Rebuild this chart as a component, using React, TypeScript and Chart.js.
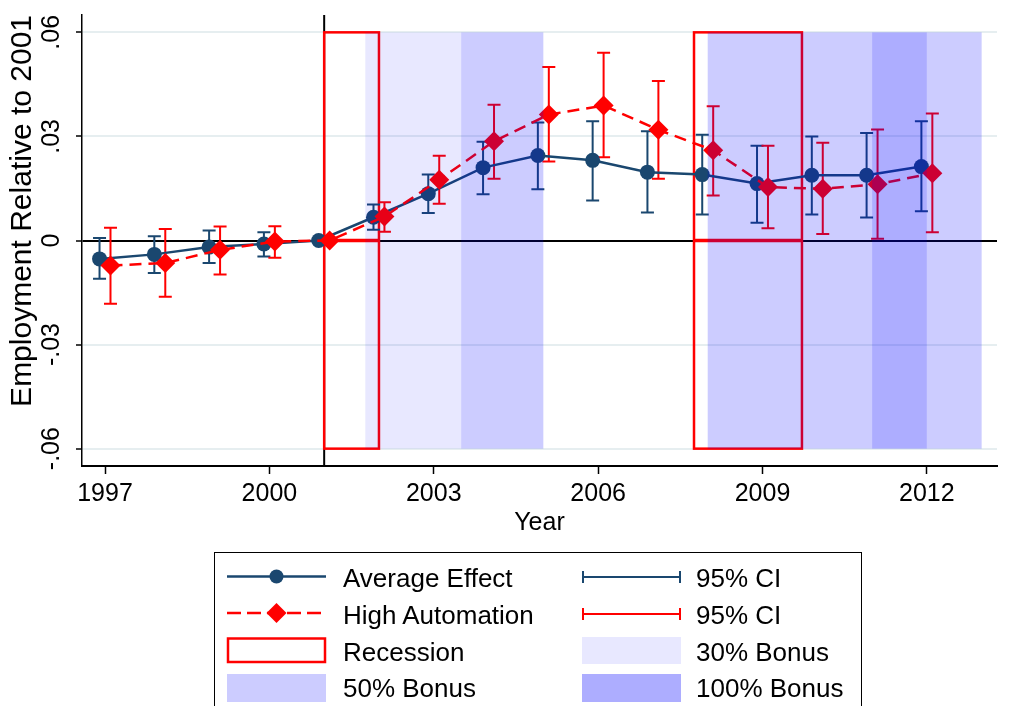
import React, { useEffect, useRef } from 'react';
import { Chart, registerables } from 'chart.js';

Chart.register(...registerables);

const NAVY = '#1a476f';
const RED = '#ff0000';
const FONT = "'Liberation Sans', Arial, Helvetica, sans-serif";

// ---- data ----
const years = [1997, 1998, 1999, 2000, 2001, 2002, 2003, 2004, 2005, 2006, 2007, 2008, 2009, 2010, 2011, 2012];
const avgEffect = [-0.0053, -0.0040, -0.0019, -0.0010, 0, 0.0067, 0.0135, 0.0210, 0.0245, 0.0231, 0.0197, 0.0190, 0.0164, 0.0188, 0.0188, 0.0213];
const avgLow = [-0.0110, -0.0094, -0.0065, -0.0046, 0, 0.0031, 0.0079, 0.0133, 0.0148, 0.0115, 0.0081, 0.0075, 0.0051, 0.0075, 0.0066, 0.0084];
const avgHigh = [0.0007, 0.0012, 0.0029, 0.0024, 0, 0.0104, 0.0190, 0.0285, 0.0340, 0.0344, 0.0315, 0.0305, 0.0273, 0.0300, 0.0310, 0.0344];
const highAuto = [-0.0072, -0.0065, -0.0027, -0.0003, 0, 0.0069, 0.0175, 0.0286, 0.0363, 0.0389, 0.0319, 0.0260, 0.0154, 0.0149, 0.0162, 0.0194];
const highAutoLow = [-0.0182, -0.0162, -0.0098, -0.0050, 0, 0.0025, 0.0106, 0.0178, 0.0228, 0.0240, 0.0178, 0.0130, 0.0035, 0.0019, 0.0005, 0.0024];
const highAutoHigh = [0.0037, 0.0033, 0.0040, 0.0041, 0, 0.0110, 0.0244, 0.0391, 0.0500, 0.0541, 0.0460, 0.0387, 0.0273, 0.0282, 0.0320, 0.0366];

const xTicks = [1997, 2000, 2003, 2006, 2009, 2012];
const yTicks = [-0.06, -0.03, 0, 0.03, 0.06];
const yTickLabels = ['-.06', '-.03', '0', '.03', '.06'];

const recessions = [[2001, 2002], [2007.75, 2009.72]];
const bonus30 = [[2001.75, 2003.5]];
const bonus50 = [[2003.5, 2005], [2008, 2011], [2012, 2013]];
const bonus100 = [[2011, 2012]];
const shadeRange = [-0.06, 0.06];
const referenceYear = 2001;

const AVG_SHIFT = -0.1;
const HIGH_SHIFT = 0.1;

function drawCI(chart: any, xs: number[], lo: number[], hi: number[], color: string) {
  const { ctx, scales } = chart;
  const x = scales.x, y = scales.y;
  ctx.strokeStyle = color;
  ctx.lineWidth = 2;
  for (let i = 0; i < xs.length; i++) {
    if (lo[i] === hi[i]) continue;
    const px = x.getPixelForValue(xs[i]);
    const pl = y.getPixelForValue(lo[i]);
    const ph = y.getPixelForValue(hi[i]);
    ctx.beginPath();
    ctx.moveTo(px, pl); ctx.lineTo(px, ph);
    ctx.moveTo(px - 6.5, pl); ctx.lineTo(px + 6.5, pl);
    ctx.moveTo(px - 6.5, ph); ctx.lineTo(px + 6.5, ph);
    ctx.stroke();
  }
}

const overlayPlugin = {
  id: 'overlay',
  beforeDatasetsDraw(chart: any) {
    const { ctx, chartArea, scales } = chart;
    const x = scales.x, y = scales.y;
    ctx.save();
    // vertical reference line
    const vx = x.getPixelForValue(referenceYear);
    ctx.strokeStyle = '#000';
    ctx.lineWidth = 2;
    ctx.beginPath();
    ctx.moveTo(vx, chartArea.top);
    ctx.lineTo(vx, chartArea.bottom);
    ctx.stroke();
    // recession boxes
    const yt = y.getPixelForValue(shadeRange[1]);
    const yb = y.getPixelForValue(shadeRange[0]);
    const y0 = y.getPixelForValue(0);
    ctx.strokeStyle = RED;
    for (const [a, b] of recessions) {
      const x0 = x.getPixelForValue(a);
      const x1 = x.getPixelForValue(b);
      ctx.lineWidth = 2.5;
      ctx.strokeRect(x0, yt, x1 - x0, yb - yt);
      ctx.lineWidth = 3.5;
      ctx.beginPath();
      ctx.moveTo(x0, y0);
      ctx.lineTo(x1, y0);
      ctx.stroke();
    }
    // confidence intervals
    drawCI(chart, years.map((v) => v + AVG_SHIFT), avgLow, avgHigh, NAVY);
    drawCI(chart, years.map((v) => v + HIGH_SHIFT), highAutoLow, highAutoHigh, RED);
    ctx.restore();
  },
  afterDatasetsDraw(chart: any) {
    const { ctx, scales } = chart;
    const x = scales.x, y = scales.y;
    const yt = y.getPixelForValue(shadeRange[1]);
    const yb = y.getPixelForValue(shadeRange[0]);
    ctx.save();
    const fill = (list: number[][], color: string) => {
      ctx.fillStyle = color;
      for (const [a, b] of list) {
        const x0 = x.getPixelForValue(a);
        const x1 = x.getPixelForValue(b);
        ctx.fillRect(x0, yt, x1 - x0, yb - yt);
      }
    };
    fill(bonus30, 'rgba(0,0,255,0.09)');
    fill(bonus50, 'rgba(0,0,255,0.2)');
    fill(bonus100, 'rgba(0,0,255,0.32)');
    ctx.restore();
  },
};

function ChartCanvas() {
  const ref = useRef<HTMLCanvasElement | null>(null);
  useEffect(() => {
    if (!ref.current) return;
    const chart = new Chart(ref.current, {
      type: 'line',
      data: {
        datasets: [
          {
            label: 'Average Effect',
            data: years.map((yr, i) => ({ x: yr + AVG_SHIFT, y: avgEffect[i] })),
            borderColor: NAVY,
            backgroundColor: NAVY,
            borderWidth: 2.5,
            pointStyle: 'circle',
            pointRadius: 7.5,
            pointBorderWidth: 0,
            pointBackgroundColor: NAVY,
            tension: 0,
            order: 2,
          },
          {
            label: 'High Automation',
            data: years.map((yr, i) => ({ x: yr + HIGH_SHIFT, y: highAuto[i] })),
            borderColor: RED,
            backgroundColor: RED,
            borderWidth: 2.5,
            borderDash: [12, 7],
            pointStyle: 'rectRot',
            pointRadius: 10,
            pointBorderWidth: 0,
            pointBackgroundColor: RED,
            tension: 0,
            order: 1,
          },
        ],
      },
      options: {
        responsive: false,
        animation: false,
        devicePixelRatio: 1,
        layout: { padding: { left: 0, top: 15, right: 13, bottom: 168 } },
        plugins: { legend: { display: false }, tooltip: { enabled: false } },
        scales: {
          x: {
            type: 'linear',
            min: 1996.58,
            max: 2013.28,
            afterBuildTicks: (s: any) => { s.ticks = xTicks.map((v) => ({ value: v })); },
            afterFit: (s: any) => { s.height = 72; s.paddingLeft = 0; s.paddingRight = 0; },
            border: { color: '#000', width: 2 },
            grid: { drawOnChartArea: false, tickColor: '#000', tickLength: 8, tickWidth: 1.5 },
            ticks: {
              color: '#000',
              font: { family: FONT, size: 25 },
              padding: 5,
              maxRotation: 0,
              callback: (v: any) => String(v),
            },
            title: {
              display: true,
              text: 'Year',
              color: '#000',
              font: { family: FONT, size: 25 },
              padding: { top: 0, bottom: 0 },
            },
          },
          y: {
            type: 'linear',
            min: -0.065,
            max: 0.065,
            afterBuildTicks: (s: any) => { s.ticks = yTicks.map((v) => ({ value: v })); },
            afterFit: (s: any) => { s.width = 82; s.paddingTop = 0; s.paddingBottom = 0; },
            border: { color: '#000', width: 1.5 },
            grid: {
              color: (c: any) => (c.tick && c.tick.value === 0 ? '#000' : '#e6eef0'),
              lineWidth: 2,
              tickColor: '#000',
              tickLength: 6,
              tickWidth: 1.5,
            },
            ticks: {
              color: '#000',
              font: { family: FONT, size: 25 },
              minRotation: 90,
              maxRotation: 90,
              crossAlign: 'center',
              padding: 2,
              callback: (_v: any, i: number) => yTickLabels[i],
            },
            title: {
              display: true,
              text: 'Employment Relative to 2001',
              align: 'end',
              color: '#000',
              font: { family: FONT, size: 30 },
              padding: { top: 5, bottom: 0 },
            },
          },
        },
      },
      plugins: [overlayPlugin],
    } as any);
    return () => chart.destroy();
  }, []);
  return <canvas ref={ref} width={1010} height={706} style={{ position: 'absolute', left: 0, top: 0 }} />;
}

const legendText: React.CSSProperties = {
  position: 'absolute',
  fontFamily: FONT,
  fontSize: 26,
  color: '#000',
  whiteSpace: 'nowrap',
  height: 36,
  lineHeight: '36px',
};

const legendRows = [578, 615, 652, 688];

export default function App() {
  const rowTop = (i: number) => legendRows[i] - 18;
  return (
    <div style={{ position: 'absolute', left: 0, top: 0, width: 1010, height: 706, overflow: 'hidden', background: '#fff' }}>
      <ChartCanvas />
      <div style={{ position: 'absolute', left: 214, top: 552, width: 648, height: 180, border: '1.5px solid #000', boxSizing: 'border-box' }} />
      <svg width={1010} height={706} style={{ position: 'absolute', left: 0, top: 0, pointerEvents: 'none' }}>
        {/* Average Effect */}
        <line x1={227} y1={576.5} x2={326} y2={576.5} stroke={NAVY} strokeWidth={2.5} />
        <circle cx={276.5} cy={576.5} r={7} fill={NAVY} />
        {/* High Automation */}
        <line x1={227} y1={613} x2={326} y2={613} stroke={RED} strokeWidth={2.5} strokeDasharray="14 6" />
        <polygon points="276.5,603 286.5,613 276.5,623 266.5,613" fill={RED} />
        {/* Recession */}
        <rect x={228} y={638.5} width={97} height={23.5} fill="none" stroke={RED} strokeWidth={2.5} />
        {/* 50% */}
        <rect x={227} y={674} width={99} height={28} fill="#ccccff" />
        {/* CI navy */}
        <line x1={582} y1={577} x2={681} y2={577} stroke={NAVY} strokeWidth={2} />
        <line x1={583} y1={571} x2={583} y2={583} stroke={NAVY} strokeWidth={2} />
        <line x1={680} y1={571} x2={680} y2={583} stroke={NAVY} strokeWidth={2} />
        {/* CI red */}
        <line x1={582} y1={614} x2={681} y2={614} stroke={RED} strokeWidth={2} />
        <line x1={583} y1={608} x2={583} y2={620} stroke={RED} strokeWidth={2} />
        <line x1={680} y1={608} x2={680} y2={620} stroke={RED} strokeWidth={2} />
        {/* 30% */}
        <rect x={582} y={637} width={99} height={27} fill="#e8e8ff" />
        {/* 100% */}
        <rect x={582} y={674} width={99} height={28} fill="#adadff" />
      </svg>
      <div style={{ ...legendText, left: 343, top: rowTop(0) }}>Average Effect</div>
      <div style={{ ...legendText, left: 343, top: rowTop(1) }}>High Automation</div>
      <div style={{ ...legendText, left: 343, top: rowTop(2) }}>Recession</div>
      <div style={{ ...legendText, left: 343, top: rowTop(3) }}>50% Bonus</div>
      <div style={{ ...legendText, left: 696, top: rowTop(0) }}>95% CI</div>
      <div style={{ ...legendText, left: 696, top: rowTop(1) }}>95% CI</div>
      <div style={{ ...legendText, left: 696, top: rowTop(2) }}>30% Bonus</div>
      <div style={{ ...legendText, left: 696, top: rowTop(3) }}>100% Bonus</div>
    </div>
  );
}
